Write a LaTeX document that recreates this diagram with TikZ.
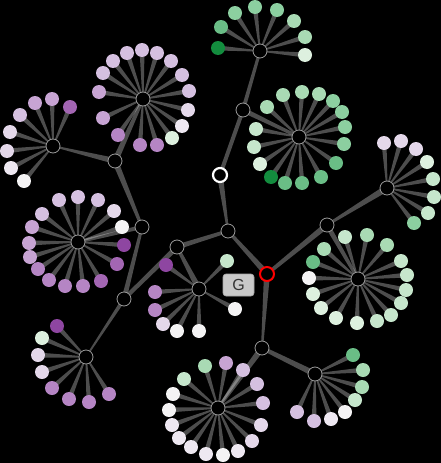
\documentclass[tikz,border=0pt]{standalone}
\usepackage{fontspec}
\newfontfamily\glabfont{Liberation Sans}
\usetikzlibrary{calc}
\pgfdeclarelayer{back}
\pgfdeclarelayer{edges}
\pgfsetlayers{back,edges,main}

\definecolor{pa}{HTML}{8E46A1}
\definecolor{pb}{HTML}{A366B3}
\definecolor{pc}{HTML}{B585C4}
\definecolor{pd}{HTML}{C7A4D3}
\definecolor{pe}{HTML}{D5C0E0}
\definecolor{pf}{HTML}{E4D8EA}
\definecolor{pg}{HTML}{EEE8F1}
\definecolor{wh}{HTML}{F4F3F4}
\definecolor{gf}{HTML}{DDF0DF}
\definecolor{ge}{HTML}{C6E6CC}
\definecolor{gd}{HTML}{A9DAB4}
\definecolor{gc}{HTML}{8CCFA0}
\definecolor{gb}{HTML}{6ABD86}
\definecolor{ga}{HTML}{138C3E}
\definecolor{hubring}{HTML}{9A9A9A}
\definecolor{gboxfill}{HTML}{C9C9C9}
\definecolor{gboxline}{HTML}{A5A5A5}
\definecolor{gtext}{HTML}{333333}

% wedge between two nodes, width #3 at the first, #4 at the second
\newcommand\taper[4]{%
  \fill[edge] ($(#1)!0.5*#3pt!90:(#2)$) -- ($(#2)!0.5*#4pt!-90:(#1)$)
    -- ($(#2)!0.5*#4pt!90:(#1)$) -- ($(#1)!0.5*#3pt!-90:(#2)$) -- cycle;}
% leaves round a hub
\newcommand\cluster[2]{%
  \foreach \x/\y/\col [count=\i] in {#2}
  {
     \coordinate (#1-\i) at (\x,\y);
     \begin{pgfonlayer}{edges}\taper{#1}{#1-\i}{1.2}{5}\end{pgfonlayer}
     \node[leaf, fill=\col] (#1-l\i) at (#1-\i) {};
  }}

\begin{document}
\begin{tikzpicture}[x=1pt, y=-1pt,
  edge/.style={fill=white, fill opacity=.3},
  leaf/.style={circle, minimum size=14, inner sep=0},
  hub/.style={circle, minimum size=14, inner sep=0, fill=black, draw=hubring, line width=.8},
  gbox/.style={rounded corners=3, fill=gboxfill, draw=gboxline, line width=.6,
    minimum width=31, minimum height=22, inner sep=0, text=gtext,
    font=\glabfont\fontsize{16}{16}\selectfont}]
\useasboundingbox (0,0) rectangle (441,463);
\begin{pgfonlayer}{back}
\fill[black] (0,0) rectangle (441,463);
\end{pgfonlayer}

\node[hub] (c) at (228,231) {};
\node[hub, draw=white, line width=2.2] (w) at (220,175) {};
\node[hub, draw=red, line width=2] (r) at (267,274) {};
\node[hub] (j1) at (243,110) {};
\node[hub] (j2) at (177,247) {};
\node[hub] (j3) at (124,299) {};
\node[hub] (j4) at (142,227) {};
\node[hub] (j5) at (115,161) {};
\node[hub] (j6) at (327,225) {};
\node[hub] (j7) at (262,348) {};

\node[hub] (hA) at (143,99) {};
\node[hub] (hB) at (53,146) {};
\node[hub] (hC) at (260,51) {};
\node[hub] (hD) at (299,137) {};
\node[hub] (hE) at (387,188) {};
\node[hub] (hF) at (78,242) {};
\node[hub] (hG) at (199,289) {};
\node[hub] (hH) at (86,357) {};
\node[hub] (hI) at (218,408) {};
\node[hub] (hJ) at (315,374) {};
\node[hub] (hK) at (358,279) {};

\begin{pgfonlayer}{edges}
\taper{j5}{hB}{6}{1.5}
\taper{j5}{hA}{6}{3}
\taper{j5}{j4}{6}{3}
\taper{j4}{hF}{4}{3}
\taper{j4}{j3}{3}{5}
\taper{j3}{hH}{4}{1.5}
\taper{j3}{j2}{4}{5}
\taper{j2}{c}{5}{3.5}
\taper{j2}{hG}{3}{6}
\taper{c}{w}{2}{6}
\taper{w}{j1}{4}{4}
\taper{j1}{hC}{4}{3}
\taper{j1}{hD}{5}{3}
\taper{c}{r}{3}{6}
\taper{r}{j6}{3.5}{6}
\taper{j6}{hE}{2.5}{6.5}
\taper{j6}{hK}{5}{3}
\taper{r}{j7}{6}{2}
\taper{j7}{hJ}{4}{6}
\taper{j7}{hI}{6}{3}
\end{pgfonlayer}

\cluster{hA}{127/53/pe, 142/50/pe, 157/53/pe, 171/61/pe, 182/75/pe, 189/91/pe,
  188/110/pf, 182/126/pg, 172/138/gf, 157/145/pc, 140/145/pc, 118/135/pc,
  103/118/pd, 99/92/pd, 103/73/pe, 113/61/pe}
\cluster{hB}{70/107/pb, 52/99/pd, 35/103/pd, 20/115/pe, 10/132/pf, 7/151/pf,
  11/168/pg, 24/181/wh}
\cluster{hC}{218/48/ga, 221/27/gb, 235/13/gc, 255/7/gc, 277/10/gc, 294/21/gd,
  305/37/gd, 305/55/gf}
\cluster{hD}{283/95/gd, 302/92/gd, 319/94/gd, 333/101/gc, 342/112/gc, 345/127/gc,
  344/144/gc, 336/163/gb, 321/177/gb, 302/183/gb, 285/183/gb, 271/177/ga,
  260/164/gf, 254/147/ge, 256/129/ge, 267/107/gd}
\cluster{hE}{384/143/pf, 401/141/pf, 416/149/pf, 427/162/gf, 433/179/ge,
  434/197/ge, 428/213/ge, 414/223/gc}
\cluster{hF}{42/214/pe, 59/200/pe, 78/197/pe, 98/200/pe, 114/211/pf, 122/227/wh,
  124/245/pa, 117/264/pb, 101/281/pb, 83/286/pc, 65/286/pc, 49/280/pc,
  38/269/pc, 30/257/pd, 29/243/pd, 32/227/pd}
\cluster{hG}{166/265/pa, 155/292/pc, 155/310/pc, 163/324/pf, 177/331/wh,
  199/331/wh, 235/309/wh, 227/261/ge}
\cluster{hH}{57/326/pa, 42/338/gf, 38/355/pf, 42/372/pf, 52/388/pc, 69/399/pc,
  89/402/pc, 109/394/pc}
\cluster{hI}{205/366/gd, 184/379/ge, 173/394/wh, 169/410/wh, 172/425/pg,
  179/438/pg, 191/447/pg, 206/454/pg, 223/455/wh, 238/451/pg, 252/441/pf,
  261/425/pf, 263/403/pe, 257/384/pe, 243/370/pe, 226/363/pd}
\cluster{hJ}{353/355/gb, 363/370/gd, 362/387/gd, 355/400/ge, 345/412/wh,
  331/419/pg, 314/421/pe, 297/412/pe}
\cluster{hK}{313/262/gb, 324/249/gd, 345/237/ge, 367/235/gd, 387/245/gd,
  401/261/ge, 407/275/ge, 406/290/ge, 401/303/ge, 391/315/ge, 377/321/ge,
  357/323/gf, 336/318/gf, 321/308/gf, 313/294/gf, 309/278/wh}

\node[gbox] (glab) at (238.5,285) {G};
\end{tikzpicture}
\end{document}
